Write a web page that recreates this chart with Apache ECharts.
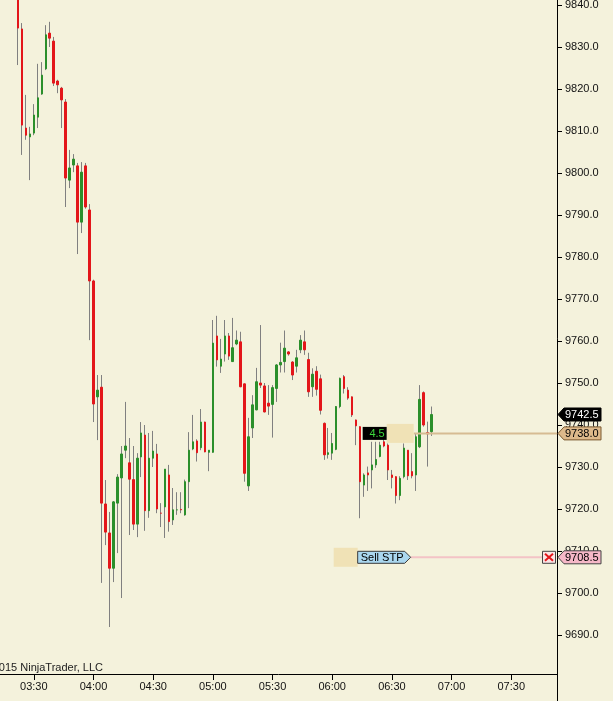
<!DOCTYPE html>
<html>
<head>
<meta charset="utf-8">
<script src="https://cdn.jsdelivr.net/npm/echarts@6/dist/echarts.min.js"></script>
<style>
html,body{margin:0;padding:0;background:#F4F2DC;}
#c{width:613px;height:701px;}
</style>
</head>
<body>
<div id="c"></div>
<script>
// ---- data (2-minute bars) ----
const sessionStart = '03:14';
const sessionEnd = '07:52';
const barMinutes = 2;
const firstBarTime = '03:22';

const opens = [
 9845.0,9834.3,9810.7,9808.6,9809.5,9813.3,9818.8,9824.8,9833.3,9831.4,
 9821.9,9820.2,9816.9,9798.3,9801.9,9801.7,9788.3,9801.7,9791.2,9774.3,
 9746.7,9749.0,9721.2,9714.3,9705.9,9721.4,9727.4,9734.0,9731.0,9727.0,
 9716.4,9732.4,9737.6,9719.6,9732.1,9733.1,9719.0,9720.5,9728.1,9717.4,
 9719.8,9719.9,9718.6,9726.5,9734.3,9736.2,9734.6,9740.7,9733.5,9733.5,
 9761.2,9754.0,9756.9,9761.2,9755.1,9759.3,9759.8,9749.8,9725.5,9739.3,
 9743.6,9750.0,9749.3,9745.2,9744.9,9748.7,9754.3,9755.1,9757.4,9755.0,
 9754.0,9757.9,9759.8,9755.6,9749.1,9752.8,9751.0,9740.4,9733.0,9733.3,
 9734.2,9744.4,9751.5,9748.3,9746.7,9741.2,9739.6,9725.7,9728.6,9729.3,
 9730.5,9732.5,9736.0,9735.2,9728.1,9727.7,9723.2,9727.7,9734.0,9728.9,
 9728.1,9734.8,9747.7,9738.2,9738.4
];
const highs = [
 9848.0,9835.7,9818.6,9811.0,9816.4,9826.0,9826.4,9835.2,9836.0,9832.4,
 9822.2,9820.5,9817.6,9805.5,9804.5,9802.4,9802.6,9802.4,9792.6,9774.6,
 9751.9,9751.9,9726.9,9719.3,9721.9,9728.3,9735.0,9745.5,9736.9,9735.0,
 9733.3,9740.7,9740.0,9738.1,9738.6,9735.5,9721.4,9729.5,9730.5,9725.0,
 9724.0,9724.0,9727.0,9738.3,9742.4,9736.6,9743.8,9740.8,9734.0,9765.0,
 9766.0,9760.5,9765.0,9761.9,9765.5,9762.5,9762.2,9749.9,9741.7,9747.1,
 9753.6,9763.8,9750.0,9749.5,9749.5,9754.5,9759.6,9762.5,9757.6,9755.2,
 9757.9,9761.4,9762.5,9757.2,9753.5,9754.0,9752.0,9740.6,9739.3,9738.1,
 9744.5,9751.3,9751.9,9749.0,9746.8,9741.3,9739.7,9728.5,9730.1,9736.0,
 9736.0,9736.0,9737.5,9735.6,9729.3,9727.8,9727.8,9735.6,9734.0,9733.3,
 9738.0,9749.5,9748.0,9740.8,9744.4
];
const lows = [
 9825.7,9804.3,9807.9,9798.3,9809.0,9810.7,9818.6,9824.5,9830.0,9820.7,
 9819.0,9810.7,9791.9,9796.4,9800.2,9780.7,9785.7,9791.5,9760.2,9740.7,
 9736.4,9702.4,9711.4,9691.9,9702.6,9709.5,9698.8,9732.1,9713.8,9715.0,
 9713.3,9727.6,9714.8,9717.9,9730.0,9719.0,9715.7,9713.1,9714.6,9716.2,
 9718.6,9719.0,9718.4,9720.2,9734.0,9731.3,9734.0,9733.5,9729.0,9733.4,
 9753.9,9752.4,9755.1,9755.5,9755.0,9759.0,9749.0,9726.5,9724.3,9736.9,
 9743.5,9748.8,9743.0,9742.4,9737.0,9745.5,9752.5,9752.5,9756.5,9750.7,
 9752.5,9757.1,9756.7,9746.7,9746.7,9747.0,9742.5,9731.7,9732.0,9731.7,
 9734.0,9744.0,9747.5,9746.0,9741.9,9735.2,9717.8,9722.9,9724.3,9724.9,
 9729.8,9732.3,9734.7,9726.9,9724.9,9721.3,9722.1,9727.3,9726.9,9727.3,
 9724.3,9734.5,9739.6,9730.1,9737.4
];
const closes = [
 9834.5,9811.4,9809.0,9809.3,9813.8,9817.9,9823.3,9832.9,9832.1,9821.4,
 9821.0,9817.4,9798.8,9801.2,9803.3,9788.3,9800.2,9791.9,9774.3,9745.0,
 9748.3,9721.4,9714.5,9705.9,9721.7,9727.6,9733.1,9735.0,9727.1,9716.4,
 9732.1,9738.1,9719.6,9732.1,9733.8,9720.0,9719.0,9729.5,9717.0,9719.8,
 9719.8,9719.8,9726.5,9734.0,9736.0,9733.4,9740.7,9733.6,9734.0,9759.5,
 9755.5,9755.7,9761.2,9756.4,9758.4,9760.2,9749.1,9728.5,9737.2,9744.8,
 9750.3,9749.5,9743.1,9744.5,9748.9,9754.3,9754.9,9758.3,9756.9,9751.9,
 9756.0,9760.2,9757.9,9747.9,9752.1,9748.5,9743.5,9732.9,9733.4,9735.6,
 9744.4,9751.1,9748.7,9746.4,9742.4,9739.8,9726.5,9728.1,9728.1,9730.5,
 9731.8,9735.2,9735.0,9729.3,9727.5,9723.2,9727.3,9734.5,9727.9,9727.9,
 9737.2,9746.1,9740.0,9737.9,9742.5
];

// y-axis ticks
const priceMin = 9680;
const priceMax = 9850;
const priceStep = 10;

// annotations
const lastPrice = 9742.5;
const positionPrice = 9738.0;
const positionPnl = '4.5';
const stopPrice = 9708.5;
const stopLabel = 'Sell STP';
const copyright = '\u00A92015 NinjaTrader, LLC';

// ---- build ----
function toMin(t){const p=t.split(':');return (+p[0])*60+(+p[1]);}
function fmt(m){const h=Math.floor(m/60),mm=m%60;return String(h).padStart(2,'0')+':'+String(mm).padStart(2,'0');}
const categories = [];
for (let m = toMin(sessionStart); m <= toMin(sessionEnd); m += barMinutes) categories.push(fmt(m));
const startIdx = categories.indexOf(firstBarTime);

const wickData = categories.map((c, i) => {
  const k = i - startIdx;
  if (k < 0 || k >= opens.length) return '-';
  return [opens[k], closes[k], lows[k], highs[k]];
});
const bodyData = categories.map((c, i) => {
  const k = i - startIdx;
  if (k < 0 || k >= opens.length) return '-';
  const o = opens[k], cl = closes[k];
  return [o, cl, Math.min(o, cl), Math.max(o, cl)];
});
const lastBarTime = categories[startIdx + opens.length - 1];

const UP = '#2B8F2B', DOWN = '#E3161A', WICK = '#808080';
const FONT = '"Liberation Sans", Arial, sans-serif';
const gridLeft = 0, gridWidth = 557;
const axisX = gridLeft + gridWidth;

const showLabel = (idx, val) => /:(00|30)$/.test(val);

const chart = echarts.init(document.getElementById('c'), null, {renderer: 'canvas'});
chart.setOption({
  backgroundColor: '#F4F2DC',
  animation: false,
  grid: {left: gridLeft, top: -37, width: gridWidth, height: 714, containLabel: false, outerBoundsMode: 'none'},
  xAxis: {
    type: 'category', data: categories, boundaryGap: true, offset: -3,
    axisLine: {show: true, lineStyle: {color: '#000', width: 1}},
    axisTick: {show: true, alignWithLabel: true, interval: showLabel, length: 6, lineStyle: {color: '#000'}},
    axisLabel: {interval: showLabel, color: '#111', fontSize: 11, fontFamily: FONT, margin: 7},
    splitLine: {show: false}
  },
  yAxis: {
    type: 'value', position: 'right', min: priceMin, max: priceMax, interval: priceStep, scale: true,
    axisLine: {show: true, lineStyle: {color: '#000', width: 1}},
    axisTick: {show: true, length: 5, lineStyle: {color: '#000'}},
    axisLabel: {color: '#111', fontSize: 11, fontFamily: FONT, margin: 8, showMinLabel: false, showMaxLabel: false,
      formatter: v => v.toFixed(1)},
    splitLine: {show: false}
  },
  series: [
    {type: 'candlestick', data: wickData, barWidth: 1, silent: true,
      itemStyle: {color: WICK, color0: WICK, borderColor: WICK, borderColor0: WICK, borderWidth: 1}},
    {type: 'candlestick', data: bodyData, barWidth: 2, silent: true,
      itemStyle: {color: UP, color0: DOWN, borderColor: UP, borderColor0: DOWN, borderWidth: 1}}
  ]
});

// ---- annotations positioned through the chart's scales ----
const py = v => chart.convertToPixel({yAxisIndex: 0}, v);
const lx = chart.convertToPixel({xAxisIndex: 0}, lastBarTime);
const txt = (x, y, text, fill, align) => ({
  type: 'text', x: x, y: y, z: 120,
  style: {text: text, fill: fill, font: '11px ' + FONT, textAlign: align || 'left', align: align || 'left',
    textVerticalAlign: 'middle', verticalAlign: 'middle'}
});
function axisTag(price, fill, stroke, textColor) {
  const y = py(price);
  return [
    {type: 'polygon', z: 110, shape: {points: [[axisX + 1, y], [axisX + 7, y - 6.5], [axisX + 44, y - 6.5], [axisX + 44, y + 6.5], [axisX + 7, y + 6.5]]},
      style: {fill: fill, stroke: stroke, lineWidth: 1}},
    txt(axisX + 8, y + 0.5, price.toFixed(1), textColor)
  ];
}
const yPos = py(positionPrice), yStop = py(stopPrice);
const elements = [].concat(
  // position line & box
  [{type: 'line', z: 105, shape: {x1: lx - 18, y1: yPos, x2: axisX, y2: yPos}, style: {stroke: '#D6BC93', lineWidth: 2}},
   {type: 'rect', z: 106, shape: {x: lx - 45, y: yPos - 9.5, width: 27, height: 19}, style: {fill: '#F0E2B6'}},
   {type: 'rect', z: 107, shape: {x: lx - 69, y: yPos - 6.5, width: 24, height: 13}, style: {fill: '#000'}},
   txt(lx - 47, yPos + 0.5, positionPnl, '#3CD83C', 'right')],
  // stop order
  [{type: 'rect', z: 106, shape: {x: lx - 98, y: yStop - 9.5, width: 24, height: 19}, style: {fill: '#F0E2B6'}},
   {type: 'line', z: 105, shape: {x1: lx - 21, y1: yStop, x2: axisX - 15, y2: yStop}, style: {stroke: '#F3C3C6', lineWidth: 2}},
   {type: 'polygon', z: 107, shape: {points: [[lx - 74, yStop - 6], [lx - 27, yStop - 6], [lx - 21, yStop], [lx - 27, yStop + 6], [lx - 74, yStop + 6]]},
     style: {fill: '#AAD7EF', stroke: '#3A3A3A', lineWidth: 1}},
   txt(lx - 71, yStop + 0.5, stopLabel, '#000'),
   {type: 'rect', z: 107, shape: {x: axisX - 14.5, y: yStop - 6, width: 13, height: 12}, style: {fill: '#FBE4E4', stroke: '#444', lineWidth: 1}},
   {type: 'line', z: 108, shape: {x1: axisX - 12, y1: yStop - 3.5, x2: axisX - 4, y2: yStop + 3.5}, style: {stroke: '#E3161A', lineWidth: 2}},
   {type: 'line', z: 108, shape: {x1: axisX - 12, y1: yStop + 3.5, x2: axisX - 4, y2: yStop - 3.5}, style: {stroke: '#E3161A', lineWidth: 2}}],
  axisTag(lastPrice, '#000', '#000', '#fff'),
  axisTag(positionPrice, '#DDB98B', '#7A5A30', '#000'),
  axisTag(stopPrice, '#F6B8C8', '#444', '#000'),
  [{type: 'line', z: 100, shape: {x1: axisX + 0.5, y1: 676, x2: axisX + 0.5, y2: 701}, style: {stroke: '#000', lineWidth: 1}},
   {type: 'text', x: 103, y: 667.5, z: 100, style: {text: copyright, fill: '#222', font: '11px ' + FONT, textAlign: 'right', align: 'right', textVerticalAlign: 'middle', verticalAlign: 'middle'}}]
);
chart.setOption({graphic: {elements: elements}});
</script>
</body>
</html>
